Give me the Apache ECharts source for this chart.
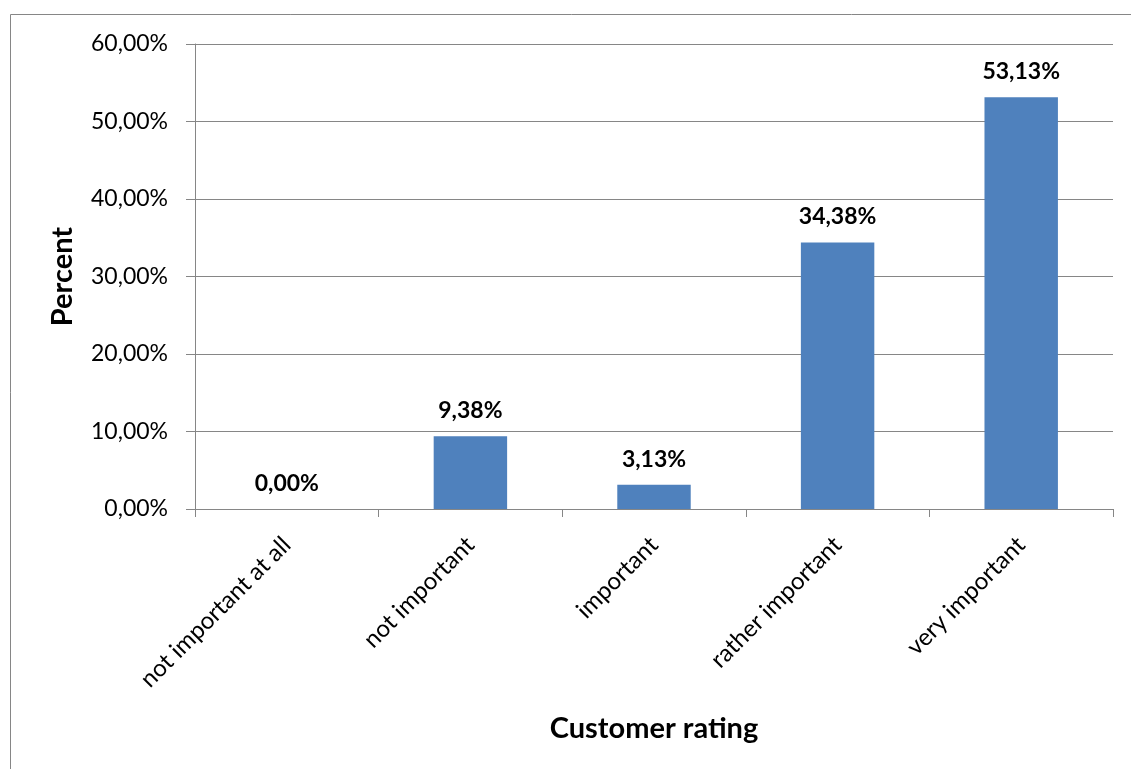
<!DOCTYPE html>
<html>
<head>
<meta charset="utf-8">
<script src="https://cdn.jsdelivr.net/npm/echarts@6/dist/echarts.min.js"></script>
<style>
  html, body { margin: 0; padding: 0; background: #fff; }
  #chart { width: 1131px; height: 769px; }
</style>
</head>
<body>
<div id="chart"></div>
<script>
// Share of customers per importance rating
const categories = ['not important at all', 'not important', 'important', 'rather important', 'very important'];
const percentValues = [0.00, 9.38, 3.13, 34.38, 53.13];
const yMin = 0, yMax = 60, yStep = 10;

const FONT = 'Lato';
const GRAY = '#868686';

function pct(v) {
  return v.toFixed(2).replace('.', ',') + '%';
}

const chart = echarts.init(document.getElementById('chart'), null, { renderer: 'canvas' });

chart.setOption({
  animation: false,
  backgroundColor: '#ffffff',
  textStyle: { fontFamily: FONT },
  graphic: [{
    type: 'rect',
    shape: { x: 10.5, y: 14.5, width: 1200, height: 800 },
    style: { fill: 'none', stroke: GRAY, lineWidth: 1 },
    silent: true
  }],
  grid: { left: 195, right: 18, top: 44, bottom: 260, containLabel: false },
  xAxis: {
    type: 'category',
    data: categories,
    boundaryGap: true,
    name: 'Customer rating',
    nameLocation: 'middle',
    nameGap: 205,
    nameTextStyle: { fontFamily: FONT, fontSize: 29, fontWeight: 'bold', color: '#000' },
    axisLine: { show: true, lineStyle: { color: GRAY, width: 1 } },
    axisTick: { show: true, alignWithLabel: false, length: 8, lineStyle: { color: GRAY } },
    axisLabel: { rotate: 45, margin: 32, fontFamily: FONT, fontSize: 24, color: '#000', interval: 0 },
    splitLine: { show: false }
  },
  yAxis: {
    type: 'value',
    min: yMin,
    max: yMax,
    interval: yStep,
    name: 'Percent',
    nameLocation: 'middle',
    nameRotate: 90,
    nameGap: 118,
    nameTextStyle: { fontFamily: FONT, fontSize: 29, fontWeight: 'bold', color: '#000' },
    axisLine: { show: true, lineStyle: { color: GRAY, width: 1 } },
    axisTick: { show: true, length: 9, lineStyle: { color: GRAY } },
    axisLabel: { formatter: pct, margin: 27, fontFamily: FONT, fontSize: 23, color: '#000' },
    splitLine: { show: true, lineStyle: { color: GRAY, width: 1 } }
  },
  series: [{
    type: 'bar',
    data: percentValues,
    barWidth: '40%',
    itemStyle: { color: '#4F81BD' },
    label: {
      show: true,
      position: 'top',
      distance: 14,
      formatter: p => pct(p.value),
      fontFamily: FONT,
      fontSize: 23,
      fontWeight: 'bold',
      color: '#000'
    }
  }]
});
</script>
</body>
</html>
